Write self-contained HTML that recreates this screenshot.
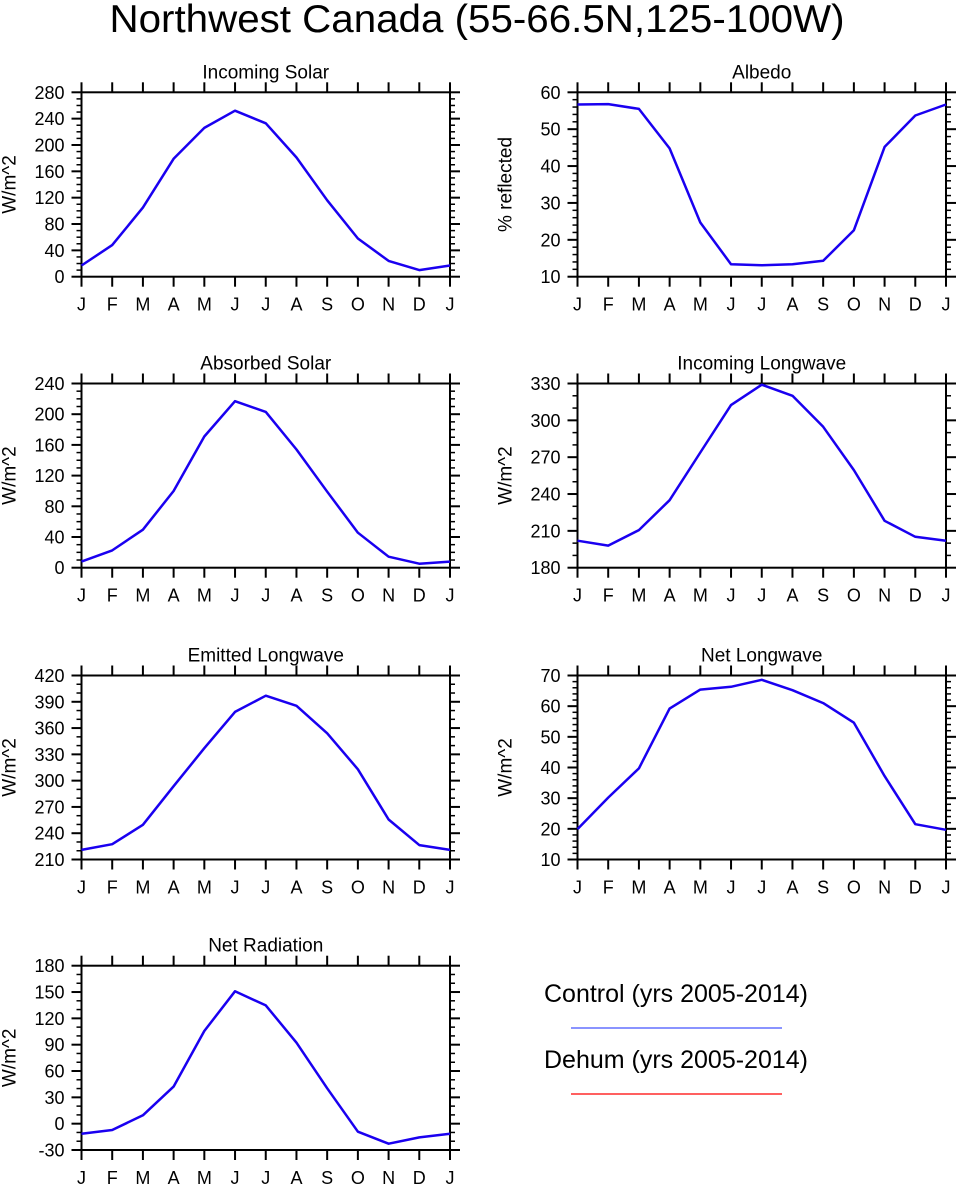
<!DOCTYPE html>
<html><head><meta charset="utf-8"><style>
body{margin:0;background:#fff;}
svg{display:block;font-family:"Liberation Sans",sans-serif;}
</style></head><body>
<svg id="fig" width="957" height="1187" viewBox="0 0 957 1187">
<text x="477" y="32" font-size="39" text-anchor="middle" textLength="735" lengthAdjust="spacingAndGlyphs">Northwest Canada (55-66.5N,125-100W)</text>
<g>
<text x="676" y="1002" font-size="25" text-anchor="middle" textLength="264" lengthAdjust="spacingAndGlyphs">Control (yrs 2005-2014)</text>
<line x1="571" y1="1028" x2="782" y2="1028" stroke="#4455ff" stroke-width="1.3"/>
<text x="676" y="1068" font-size="25" text-anchor="middle" textLength="264" lengthAdjust="spacingAndGlyphs">Dehum (yrs 2005-2014)</text>
<line x1="571" y1="1094" x2="782" y2="1094" stroke="#ff0000" stroke-width="1.3"/>
</g>
</svg>
<script>
const months = ["J","F","M","A","M","J","J","A","S","O","N","D","J"];
const incomingSolar = [17,48,105,179,226,252,233,181,116,58,24,10,17];
const albedo = [56.7,56.8,55.5,44.8,24.7,13.4,13.1,13.4,14.3,22.6,45.2,53.7,56.7];
const absorbedSolar = [8,22.6,49.5,100,171,217,203,154,99,45.6,14.3,5.2,8];
const incomingLW = [202,198,210.6,235,273.8,312.4,329,320,294.7,259.5,218.2,205.2,202];
const emittedLW = [221,227.5,249.6,293.7,337,378.5,397,385.4,354,313,255.6,226.4,221];
const netLW = [19.9,30.2,39.7,59.2,65.4,66.3,68.6,65.2,61,54.6,37.2,21.5,19.7];
const netRad = [-11.4,-7.2,9.5,42.2,105.6,150.8,134.8,92.3,40.3,-9.1,-22.8,-15.6,-11.4];
const ticksIncomingSolar = [0,40,80,120,160,200,240,280];
const ticksAlbedo = [10,20,30,40,50,60];
const ticksAbsorbed = [0,40,80,120,160,200,240];
const ticksIncomingLW = [180,210,240,270,300,330];
const ticksEmittedLW = [210,240,270,300,330,360,390,420];
const ticksNetLW = [10,20,30,40,50,60,70];
const ticksNetRad = [-30,0,30,60,90,120,150,180];

const NS="http://www.w3.org/2000/svg";
const svg=document.getElementById('fig');
function mk(tag,attrs,parent){const e=document.createElementNS(NS,tag);for(const k in attrs)e.setAttribute(k,attrs[k]);parent.appendChild(e);return e;}

function panel(name,title,ytitle,data,ticks,minorN,L,T,R,B){
  const g=mk('g',{},svg);
  
  
  const y0=ticks[0],y1=ticks[ticks.length-1];
  const xs=i=>L+(R-L)*i/(data.length-1);
  const ys=v=>B-(B-T)*(v-y0)/(y1-y0);
  months.forEach((m,i)=>{
    const x=xs(i);
    mk('line',{x1:x,y1:B,x2:x,y2:B+10,stroke:'#000','stroke-width':2},g);
    mk('line',{x1:x,y1:T,x2:x,y2:T-10,stroke:'#000','stroke-width':2},g);
    const t=mk('text',{x:x,y:B+34,'font-size':18,'text-anchor':'middle'},g);
    t.textContent=m;
    
    
  });
  const step=ticks[1]-ticks[0];
  ticks.forEach((v,i)=>{
    const y=ys(v);
    mk('line',{x1:L,y1:y,x2:L-10,y2:y,stroke:'#000','stroke-width':2},g);
    mk('line',{x1:R,y1:y,x2:R+10,y2:y,stroke:'#000','stroke-width':2},g);
    const t=mk('text',{x:L-17,y:y+6.5,'font-size':18,'text-anchor':'end'},g);
    t.textContent=v;
    
    
    if(i<ticks.length-1){
      for(let k=1;k<=minorN;k++){
        const ym=ys(v+step*k/(minorN+1));
        mk('line',{x1:L,y1:ym,x2:L-5,y2:ym,stroke:'#000','stroke-width':1.5},g);
        mk('line',{x1:R,y1:ym,x2:R+5,y2:ym,stroke:'#000','stroke-width':1.5},g);
      }
    }
  });
  const box=mk('rect',{x:L,y:T,width:R-L,height:B-T,fill:'none',stroke:'#000','stroke-width':2},g);
  
  
  const pts=data.map((v,i)=>xs(i).toFixed(1)+','+ys(v).toFixed(1)).join(' ');
  const pl=mk('polyline',{points:pts,fill:'none',stroke:'#1a00f0','stroke-width':2.5,'stroke-linejoin':'round'},g);
  
  
  const tt=mk('text',{x:(L+R)/2,y:T-14,'font-size':19,'text-anchor':'middle'},g);
  tt.textContent=title;
  
  
  const yt=mk('text',{x:0,y:0,'font-size':19,'text-anchor':'middle',transform:`translate(${L-66},${(T+B)/2}) rotate(-90)`},g);
  yt.textContent=ytitle;
  
  
}
const LL=81.5,LR=450,RL=577.5,RR=946;
panel('incoming-solar','Incoming Solar','W/m^2',incomingSolar,ticksIncomingSolar,3,LL,92.3,LR,276.7);
panel('albedo','Albedo','% reflected',albedo,ticksAlbedo,4,RL,92.3,RR,276.7);
panel('absorbed-solar','Absorbed Solar','W/m^2',absorbedSolar,ticksAbsorbed,3,LL,383.5,LR,567.7);
panel('incoming-longwave','Incoming Longwave','W/m^2',incomingLW,ticksIncomingLW,2,RL,383.5,RR,567.7);
panel('emitted-longwave','Emitted Longwave','W/m^2',emittedLW,ticksEmittedLW,2,LL,675.5,LR,859.5);
panel('net-longwave','Net Longwave','W/m^2',netLW,ticksNetLW,4,RL,675.5,RR,859.5);
panel('net-radiation','Net Radiation','W/m^2',netRad,ticksNetRad,2,LL,965.7,LR,1150);
</script>
</body></html>
